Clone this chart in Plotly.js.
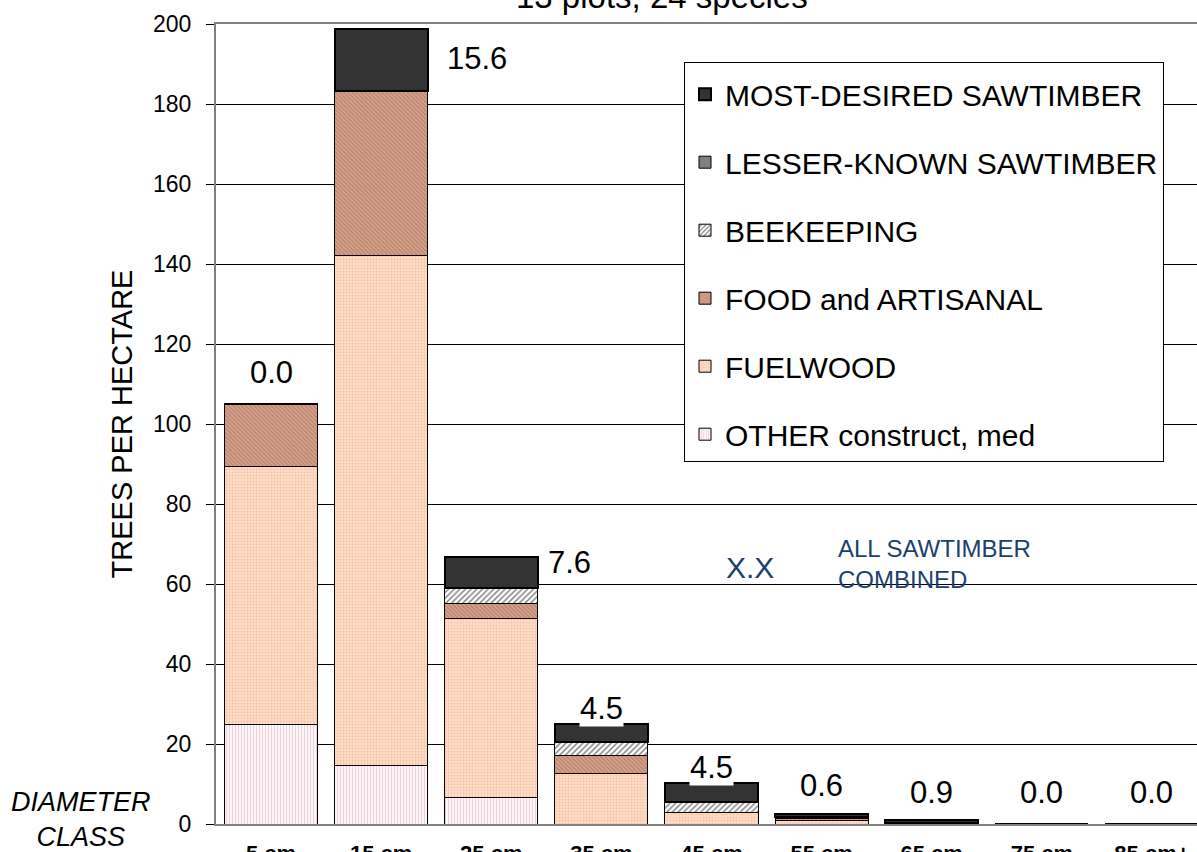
<!DOCTYPE html>
<html>
<head>
<meta charset="utf-8">
<script src="https://cdn.plot.ly/plotly-3.0.1.min.js"></script>
<style>
html, body { margin: 0; padding: 0; overflow: hidden; background: #fff; }
#chart { width: 1207px; height: 852px; }
</style>
</head>
<body>
<div id="chart"></div>
<script>
// ---- data ----
const categories = ['5 cm', '15 cm', '25 cm', '35 cm', '45 cm', '55 cm', '65 cm', '75 cm', '85 cm+'];
const otherConstructMed = [25.0, 14.6, 6.6, 0, 0, 0, 0, 0, 0];
const fuelwood = [64.3, 127.6, 44.8, 12.6, 2.8, 1.0, 0.2, 0, 0];
const foodArtisanal = [15.8, 41.0, 3.8, 4.6, 0, 0.5, 0, 0, 0];
const beekeeping = [0, 0, 3.9, 3.3, 2.8, 0.3, 0, 0, 0];
const lesserKnownSawtimber = [0, 0, 0, 0, 0, 0, 0, 0, 0];
const mostDesiredSawtimber = [0, 15.6, 7.6, 4.6, 4.7, 0.6, 0.9, 0, 0];
const sawtimberLabels = ['0.0', '15.6', '7.6', '4.5', '4.5', '0.6', '0.9', '0.0', '0.0'];
const titleText = '13 plots, 24 species';

// ---- label placement (style, not data) ----
const labelDx = [0, 0.87, 0.71, 0, 0, 0, 0, 0, 0];
const labelY = [113, 191.3, 65.4, 28.8, 14.2, 9.6, 8, 8, 8];

const FONT = 'Liberation Sans, Arial, sans-serif';

function barTrace(name, y, color, pattern, lineWidth, rank) {
  const marker = { color: color, line: { color: '#000000', width: lineWidth } };
  if (pattern) marker.pattern = pattern;
  return {
    type: 'bar', name: name, x: categories, y: y, marker: marker,
    legendgroup: name, legendrank: rank, hoverinfo: 'x+y+name'
  };
}

const traces = [
  barTrace('OTHER construct, med', otherConstructMed, '#FAF0F3',
    { shape: '|', bgcolor: '#FCF6F8', fgcolor: '#EBCBD8', size: 3, solidity: 0.3, fillmode: 'replace' }, 1, 6),
  barTrace('FUELWOOD', fuelwood, '#FFDAC4',
    { shape: '.', bgcolor: '#FFDEC9', fgcolor: '#F6C2A4', size: 3, solidity: 0.35, fillmode: 'replace' }, 1, 5),
  barTrace('FOOD and ARTISANAL', foodArtisanal, '#CC9580',
    { shape: '\\', bgcolor: '#D6A18B', fgcolor: '#B27E68', size: 3, solidity: 0.35, fillmode: 'replace' }, 1, 4),
  barTrace('BEEKEEPING', beekeeping, '#E0E0E0',
    { shape: '/', bgcolor: '#FFFFFF', fgcolor: '#7A7A7A', size: 4, solidity: 0.35, fillmode: 'replace' }, 1, 3),
  barTrace('LESSER-KNOWN SAWTIMBER', lesserKnownSawtimber, '#808080', null, 1, 2),
  barTrace('MOST-DESIRED SAWTIMBER', mostDesiredSawtimber, '#333333', null, 2, 1)
];

const annotations = sawtimberLabels.map((t, i) => ({
  x: i + labelDx[i], y: labelY[i], xref: 'x', yref: 'y',
  text: t, showarrow: false, xanchor: 'center', yanchor: 'middle',
  font: { family: FONT, size: 31, color: '#000000' },
  bgcolor: (i === 3 || i === 4) ? '#FFFFFF' : 'rgba(0,0,0,0)', borderpad: 0
}));

annotations.push(
  { x: (750 - 216) / 991, y: (824 - 567) / 800, xref: 'paper', yref: 'paper', text: 'X.X', showarrow: false,
    xanchor: 'center', yanchor: 'middle', font: { family: FONT, size: 30, color: '#1B3F6E' } },
  { x: (836 - 216) / 991, y: (824 - 564) / 800, xref: 'paper', yref: 'paper',
    text: 'ALL SAWTIMBER<br>COMBINED', showarrow: false, align: 'left',
    xanchor: 'left', yanchor: 'middle', font: { family: FONT, size: 24, color: '#1B3F6E' } },
  { x: (81 - 216) / 991, y: (824 - 819) / 800, xref: 'paper', yref: 'paper',
    text: '<i>DIAMETER<br>CLASS</i>', showarrow: false, align: 'center',
    xanchor: 'center', yanchor: 'middle', font: { family: FONT, size: 27, color: '#000000' } },
  { x: (662 - 216) / 991, y: 1, xref: 'paper', yref: 'paper', yshift: 7,
    text: titleText, showarrow: false, xanchor: 'center', yanchor: 'bottom',
    font: { family: FONT, size: 33, color: '#000000' } }
);

const layout = {
  width: 1207, height: 852,
  margin: { l: 216, r: 0, t: 24, b: 28, pad: 0 },
  paper_bgcolor: '#FFFFFF', plot_bgcolor: '#FFFFFF',
  font: { family: FONT, color: '#000000' },
  barmode: 'stack', bargap: 0.155,
  showlegend: true,
  legend: {
    x: (684 - 216) / 991, y: (824 - 62) / 800, xanchor: 'left', yanchor: 'top',
    bgcolor: '#FFFFFF', bordercolor: '#000000', borderwidth: 1,
    font: { family: FONT, size: 30, color: '#000000' },
    title: { text: ' ', font: { family: FONT, size: 4 } },
    traceorder: 'grouped', tracegroupgap: 26
  },
  xaxis: {
    type: 'category', range: [-0.5, 8.5], fixedrange: true,
    showline: true, linecolor: '#808080', linewidth: 2, mirror: true,
    ticks: '', ticklabelstandoff: 9,
    tickfont: { family: FONT, size: 22, weight: 'bold', color: '#000000' },
    showgrid: false, zeroline: false
  },
  yaxis: {
    range: [0, 200], dtick: 20, tick0: 0, fixedrange: true,
    showline: true, linecolor: '#808080', linewidth: 2,
    showgrid: true, gridcolor: '#000000', gridwidth: 1,
    ticks: 'outside', ticklen: 8, tickcolor: '#000000', tickwidth: 1,
    ticklabelstandoff: 10,
    tickfont: { family: FONT, size: 23, color: '#000000' },
    zeroline: false,
    title: { text: 'TREES PER HECTARE', standoff: 12, font: { family: FONT, size: 29, color: '#000000' } }
  },
  annotations: annotations
};

Plotly.newPlot('chart', traces, layout, { displayModeBar: false, staticPlot: true });
</script>
</body>
</html>
